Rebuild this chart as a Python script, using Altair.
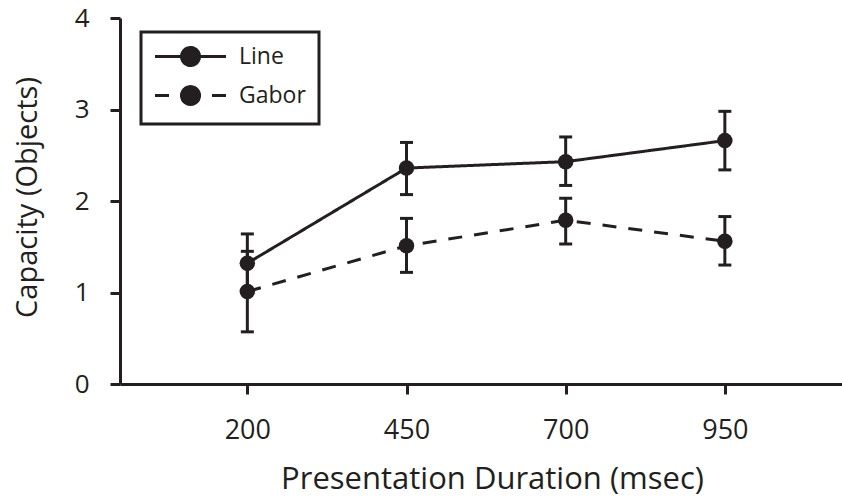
import altair as alt
import pandas as pd
import math

# ---- data ----
durations = [200, 450, 700, 950]
series_names = ["Line", "Gabor"]
line_mean = [1.32, 2.36, 2.43, 2.66]
line_low = [1.00, 2.07, 2.17, 2.34]
line_high = [1.64, 2.64, 2.70, 2.98]
gabor_mean = [1.01, 1.51, 1.79, 1.56]
gabor_low = [0.57, 1.22, 1.53, 1.30]
gabor_high = [1.45, 1.81, 2.03, 1.83]
x_ticks = [200, 450, 700, 950]
y_ticks = [0, 1, 2, 3, 4]

rows = []
for name, m, lo, hi in [("Line", line_mean, line_low, line_high),
                        ("Gabor", gabor_mean, gabor_low, gabor_high)]:
    for d, a, b, c in zip(durations, m, lo, hi):
        rows.append({"duration": d, "series": name, "mean": a, "low": b, "high": c})
df = pd.DataFrame(rows)

INK = "#231f20"
FONT = "Open Sans"

x_axis = alt.Axis(values=x_ticks, title="Presentation Duration (msec)", grid=False,
                  domainColor=INK, domainWidth=3, tickColor=INK, tickWidth=3, tickSize=10,
                  labelFont=FONT, labelFontSize=27, labelColor=INK, labelPadding=23,
                  labelFlush=False,
                  titleFont=FONT, titleFontSize=31, titleFontWeight="normal", titleColor=INK,
                  titleX=372, titleY=104, titleAlign="center", titleBaseline="alphabetic")
y_axis = alt.Axis(values=y_ticks, title="Capacity (Objects)", grid=False,
                  domainColor=INK, domainWidth=3, tickColor=INK, tickWidth=3, tickSize=10,
                  labelFont=FONT, labelFontSize=26, labelColor=INK, labelPadding=21,
                  labelFlush=False,
                  titleFont=FONT, titleFontSize=29, titleFontWeight="normal", titleColor=INK,
                  titleAngle=-90, titleX=-84, titleY=179, titleAlign="center",
                  titleBaseline="alphabetic")

x_scale = alt.Scale(domain=[0, 1134], nice=False, zero=False)
y_scale = alt.Scale(domain=[0, 4], nice=False)

X = alt.X("duration:Q", scale=x_scale, axis=x_axis, title="Presentation Duration (msec)")

# legend glyph: line - filled dot - line (dot drawn as six short wedges so that
# a dash pattern never breaks its outline)
cx = 2.78
pts = [(cx + math.cos(math.radians(a)), math.sin(math.radians(a))) for a in range(0, 361, 60)]
wedges = "".join(
    f"M{pts[i][0]:.3f},{pts[i][1]:.3f}A1,1 0 0,1 {pts[i+1][0]:.3f},{pts[i+1][1]:.3f}L{cx},0Z"
    for i in range(6)
)
legend_path = f"M-1.17,0H{cx-1:.2f}M6.72,0H{cx+1:.2f}" + wedges

base = alt.Chart(df)

lines = base.mark_line(strokeWidth=3, color=INK).encode(
    x=X,
    y=alt.Y("mean:Q", scale=y_scale, axis=y_axis, title="Capacity (Objects)"),
    strokeDash=alt.StrokeDash(
        "series:N",
        scale=alt.Scale(domain=series_names, range=[[1, 0], [14, 12]]),
        legend=alt.Legend(title=None, orient="none", legendX=21, legendY=14,
                          symbolType=legend_path, symbolSize=324,
                          symbolStrokeWidth=3, symbolStrokeColor=INK,
                          symbolFillColor=INK, labelFont=FONT, labelFontSize=23,
                          labelColor=INK, labelOffset=62, padding=13,
                          rowPadding=8, strokeColor=INK),
    ),
    detail="series:N",
)

err_rules = base.mark_rule(strokeWidth=3, color=INK).encode(
    x=X,
    y=alt.Y("low:Q", scale=y_scale, axis=y_axis, title="Capacity (Objects)"),
    y2="high:Q",
)

caps_low = base.mark_tick(thickness=3, size=13, orient="horizontal", color=INK, opacity=1).encode(
    x=X,
    y=alt.Y("low:Q", scale=y_scale, axis=y_axis, title="Capacity (Objects)"),
)
caps_high = base.mark_tick(thickness=3, size=13, orient="horizontal", color=INK, opacity=1).encode(
    x=X,
    y=alt.Y("high:Q", scale=y_scale, axis=y_axis, title="Capacity (Objects)"),
)

points = base.mark_circle(size=240, opacity=1, color=INK).encode(
    x=X,
    y=alt.Y("mean:Q", scale=y_scale, axis=y_axis, title="Capacity (Objects)"),
)

chart = alt.layer(lines, err_rules, caps_low, caps_high, points).properties(
    width=722,
    height=366,
    padding={"left": 120, "top": 18, "right": 0, "bottom": 114},
    autosize=alt.AutoSizeParams(type="none"),
    background="white",
).configure_view(stroke=None).configure_legend(strokeWidth=3)

chart.save("out.html", embed_options={"renderer": "svg", "actions": False})
